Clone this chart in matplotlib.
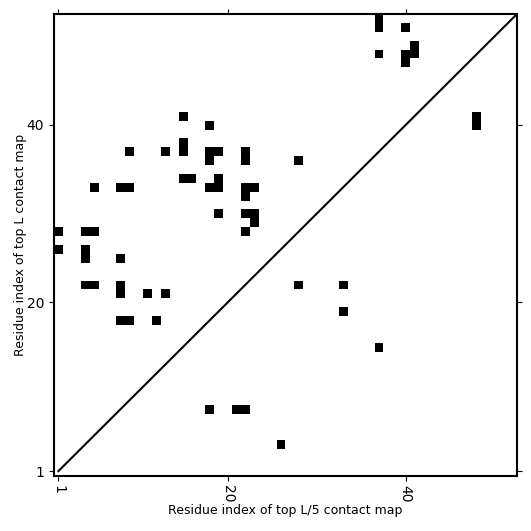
import numpy as np
import matplotlib
matplotlib.use('Agg')
import matplotlib.pyplot as plt

L = 52
# contact cells (column index, row index), 1-based
contact_x = [15, 18, 9, 13, 15, 15, 18, 19, 18, 22, 22, 28,
             15, 16, 19, 18, 19, 5, 8, 9, 22, 23, 22,
             19, 22, 23, 23, 22, 1, 4, 5, 1, 4, 4, 8,
             4, 5, 8, 8, 11, 13, 8, 9, 12,
             18, 21, 22, 26, 28, 33, 33, 37,
             37, 37, 40, 37, 41, 41, 40, 40, 48, 48]
contact_y = [41, 40, 37, 37, 38, 37, 37, 37, 36, 37, 36, 36,
             34, 34, 34, 33, 33, 33, 33, 33, 33, 33, 32,
             30, 30, 30, 29, 28, 28, 28, 28, 26, 26, 25, 25,
             22, 22, 22, 21, 21, 21, 18, 18, 18,
             8, 8, 8, 4, 22, 22, 19, 15,
             52, 51, 51, 48, 49, 48, 48, 47, 41, 40]
tick_vals = [1, 20, 40]

cmap_matrix = np.zeros((L, L))
for cx, cy in zip(contact_x, contact_y):
    cmap_matrix[cy - 1, cx - 1] = 1

fig = plt.figure(figsize=(5.31, 5.31), dpi=100)
ax = fig.add_axes([0.1017, 0.1045, 0.8719, 0.8691])
ax.imshow(cmap_matrix, cmap='Greys', origin='lower', interpolation='nearest',
          extent=(0.5, L + 0.5, 0.5, L + 0.5), vmin=0, vmax=1, aspect='auto')
ax.plot([1, L + 0.5], [1, L + 0.5], color='black', lw=1.5)
ax.set_xlim(0.5, L + 0.5)
ax.set_ylim(0.5, L + 0.5)

ax.set_xticks(tick_vals)
ax.set_xticklabels([str(t) for t in tick_vals], rotation=-90)
ax.set_yticks(tick_vals)
ax.set_yticklabels([str(t) for t in tick_vals])
ax.tick_params(top=True, right=True, labeltop=False, labelright=False)
for sp in ax.spines.values():
    sp.set_linewidth(1.5)

ax.set_xlabel('Residue index of top L/5 contact map', fontsize=9, labelpad=1)
ax.set_ylabel('Residue index of top L contact map', fontsize=9, labelpad=0)

fig.savefig('out.png', dpi=100)
